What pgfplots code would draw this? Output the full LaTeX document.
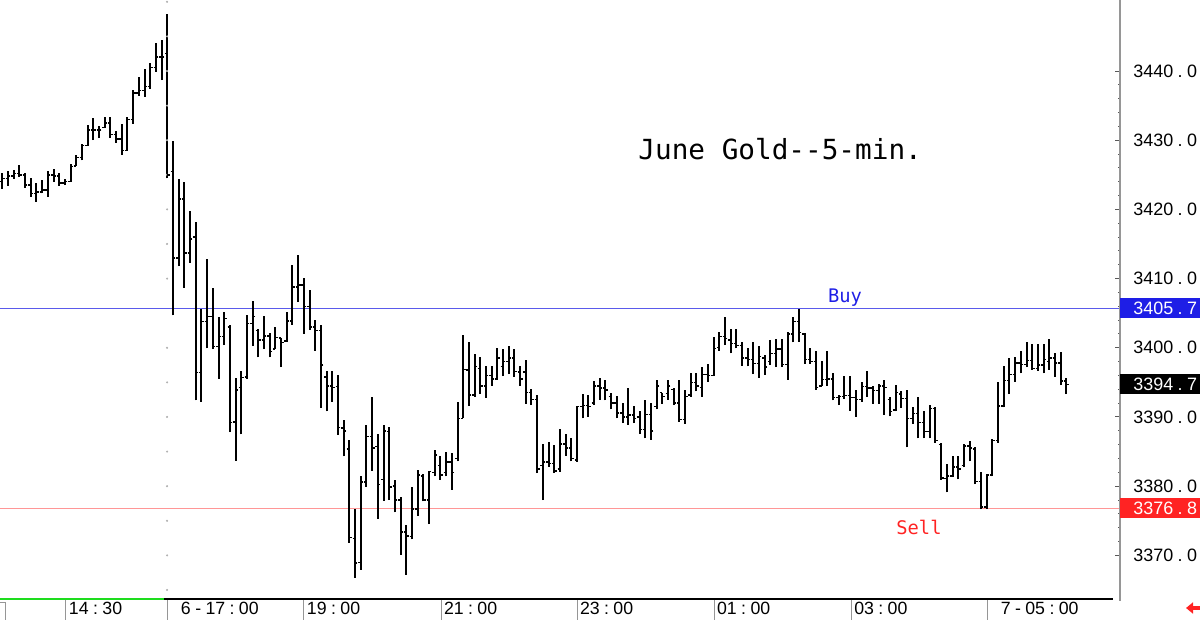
\documentclass[border=0pt]{standalone}
\usepackage{pgfplots}
\pgfplotsset{compat=1.18}
\usepackage{pgfplotstable}
\usepackage{fontspec}
\setmainfont{Liberation Sans}
\newfontfamily\monofont{DejaVu Sans Mono}
\usetikzlibrary{arrows.meta}
\definecolor{buyline}{RGB}{90,90,235}
\definecolor{buybox}{RGB}{30,30,230}
\definecolor{sellline}{RGB}{255,150,150}
\definecolor{sellbox}{RGB}{255,35,35}
\definecolor{greenbar}{RGB}{30,220,30}
\definecolor{sepgray}{RGB}{150,150,150}
\newcommand{\pr}[2]{#1\kern2.2bp.\kern2.2bp#2}
\newcommand{\tm}[2]{#1\kern2.2bp:\kern2.2bp#2}
\newcommand{\hy}{\kern2.2bp-\kern2.2bp}
\pgfdeclareplotmark{otick}{\pgfpathmoveto{\pgfqpoint{-1.2bp}{0pt}}\pgfpathlineto{\pgfqpoint{0pt}{0pt}}\pgfusepathqstroke}
\pgfdeclareplotmark{ctick}{\pgfpathmoveto{\pgfqpoint{1.2bp}{0pt}}\pgfpathlineto{\pgfqpoint{0pt}{0pt}}\pgfusepathqstroke}
\pgfplotstableread{
b o h l c
1 3424.0 3425.3 3423.0 3424.5
2 3424.5 3425.5 3423.4 3424.8
3 3424.8 3425.7 3424.4 3425.2
4 3425.2 3426.4 3424.7 3425.0
5 3425.0 3425.2 3423.1 3423.5
6 3423.5 3424.5 3421.8 3422.3
7 3422.3 3423.8 3421.1 3422.5
8 3422.5 3424.2 3422.3 3422.8
9 3422.8 3425.5 3421.8 3425.0
10 3425.0 3425.9 3424.0 3424.8
11 3424.8 3425.2 3423.4 3423.8
12 3423.8 3424.4 3423.5 3424.0
13 3424.0 3426.5 3424.0 3426.2
14 3426.3 3427.9 3426.3 3427.5
15 3427.5 3429.5 3427.1 3429.2
16 3429.2 3432.2 3429.2 3431.5
17 3431.5 3433.2 3430.0 3431.5
18 3431.5 3432.1 3430.3 3431.5
19 3431.8 3433.3 3431.8 3432.5
20 3432.5 3433.3 3430.3 3430.8
21 3430.8 3431.3 3429.6 3430.2
22 3430.2 3432.3 3427.9 3428.5
23 3428.5 3433.4 3428.5 3433.0
24 3433.0 3437.2 3432.4 3436.8
25 3436.8 3439.1 3436.4 3437.2
26 3437.2 3440.3 3436.3 3437.8
27 3437.8 3441.1 3437.4 3440.5
28 3440.5 3444.1 3439.9 3442.0
29 3442.0 3444.5 3438.7 3442.0
30 3442.5 3448.2 3424.5 3425.0
31 3425.5 3429.9 3404.7 3413.0
32 3413.0 3424.4 3411.8 3421.5
33 3421.5 3423.9 3408.7 3413.7
34 3413.7 3419.7 3412.3 3415.7
35 3416.0 3418.2 3392.4 3396.4
36 3396.4 3405.6 3392.2 3403.8
37 3403.8 3412.8 3399.9 3404.5
38 3404.5 3408.6 3399.8 3400.2
39 3400.2 3404.4 3395.5 3401.6
40 3401.6 3405.2 3400.4 3404.2
41 3403.0 3403.3 3387.8 3389.2
42 3389.3 3395.6 3383.7 3393.9
43 3394.3 3396.7 3387.5 3395.7
44 3395.8 3404.7 3395.5 3403.5
45 3403.5 3406.8 3400.3 3404.5
46 3402.5 3402.7 3398.6 3401.1
47 3401.1 3404.6 3399.8 3401.7
48 3401.7 3402.2 3398.6 3399.5
49 3399.8 3403.0 3399.8 3401.5
50 3401.4 3401.4 3397.2 3400.8
51 3401.0 3405.2 3400.9 3403.9
52 3403.9 3412.0 3403.3 3408.8
53 3408.8 3413.4 3406.6 3409.1
54 3409.1 3410.1 3402.0 3406.0
55 3406.0 3408.3 3402.6 3403.0
56 3403.0 3404.0 3399.6 3402.5
57 3402.5 3403.3 3391.3 3397.5
58 3395.8 3396.6 3390.8 3394.5
59 3394.5 3396.6 3392.2 3394.3
60 3394.4 3396.0 3387.4 3388.5
61 3388.4 3389.6 3384.3 3388.0
62 3385.4 3386.7 3371.8 3372.6
63 3372.4 3376.7 3366.8 3368.9
64 3369.0 3381.5 3367.9 3380.6
65 3380.6 3388.8 3379.9 3387.2
66 3387.2 3392.9 3382.2 3385.5
67 3385.7 3387.5 3375.3 3380.2
68 3381.0 3388.8 3377.9 3388.0
69 3387.9 3388.6 3378.0 3379.9
70 3380.0 3380.9 3376.2 3378.0
71 3378.0 3378.5 3370.1 3373.4
72 3373.4 3374.4 3367.2 3372.8
73 3372.7 3379.9 3372.3 3376.7
74 3376.7 3382.3 3375.7 3381.6
75 3381.5 3381.7 3377.8 3378.0
76 3378.0 3382.2 3374.5 3382.1
77 3382.0 3385.2 3381.4 3384.5
78 3383.0 3384.3 3380.9 3381.6
79 3382.0 3385.0 3381.4 3383.5
80 3383.5 3384.8 3379.5 3382.0
81 3384.0 3392.2 3383.6 3389.8
82 3389.8 3401.9 3389.8 3396.9
83 3396.8 3400.8 3391.6 3393.2
84 3393.2 3399.1 3392.9 3397.3
85 3397.0 3398.7 3393.3 3394.5
86 3394.5 3397.3 3392.8 3396.0
87 3396.0 3397.3 3394.5 3395.5
88 3395.5 3400.0 3395.4 3398.5
89 3397.3 3399.8 3395.9 3398.0
90 3398.0 3400.2 3396.2 3398.5
91 3398.5 3399.8 3395.8 3396.6
92 3396.5 3397.3 3394.5 3395.5
93 3396.5 3398.2 3391.9 3393.5
94 3393.5 3394.0 3391.7 3392.5
95 3392.5 3393.2 3381.9 3382.5
96 3383.0 3386.1 3378.0 3383.5
97 3383.5 3386.4 3382.8 3383.3
98 3383.3 3385.9 3381.9 3382.2
99 3382.5 3388.3 3382.1 3386.1
100 3386.1 3387.5 3384.4 3385.5
101 3385.5 3386.9 3383.6 3384.0
102 3383.8 3391.6 3383.5 3391.5
103 3391.5 3393.3 3389.8 3391.7
104 3391.7 3393.2 3390.0 3391.5
105 3392.0 3395.2 3391.7 3394.5
106 3394.5 3395.6 3392.5 3394.2
107 3394.2 3395.4 3392.4 3393.9
108 3393.0 3393.5 3391.1 3392.0
109 3392.0 3393.0 3389.8 3390.6
110 3390.6 3392.0 3389.1 3390.0
111 3390.0 3394.2 3388.9 3390.3
112 3390.3 3391.6 3389.1 3389.8
113 3390.0 3390.8 3387.6 3388.2
114 3388.2 3392.4 3386.9 3390.4
115 3390.4 3392.0 3386.7 3388.0
116 3391.5 3395.4 3391.1 3394.5
117 3393.5 3393.5 3391.9 3393.0
118 3393.4 3395.4 3392.5 3394.5
119 3394.0 3394.2 3391.7 3392.0
120 3392.0 3395.4 3389.3 3389.6
121 3389.6 3393.9 3389.0 3393.0
122 3393.2 3396.3 3392.9 3395.0
123 3395.0 3396.4 3393.7 3394.5
124 3394.3 3397.2 3392.9 3396.1
125 3396.1 3397.7 3395.1 3396.0
126 3396.0 3401.5 3395.9 3399.9
127 3400.0 3402.3 3399.6 3401.6
128 3401.6 3404.4 3400.4 3401.3
129 3401.1 3402.7 3399.2 3400.6
130 3400.6 3402.7 3399.9 3400.3
131 3400.3 3400.8 3397.4 3398.5
132 3398.5 3399.9 3397.3 3398.3
133 3398.3 3400.9 3396.2 3397.7
134 3397.7 3400.2 3395.7 3398.7
135 3398.5 3399.0 3396.1 3397.2
136 3398.0 3401.1 3397.5 3399.2
137 3399.2 3401.2 3397.2 3399.8
138 3399.8 3401.2 3397.2 3397.6
139 3397.6 3402.3 3395.4 3402.0
140 3402.0 3404.5 3400.8 3403.8
141 3403.8 3405.6 3400.9 3402.2
142 3402.0 3402.1 3397.7 3398.3
143 3398.3 3399.9 3397.7 3398.0
144 3398.0 3399.5 3393.9 3394.3
145 3394.5 3398.1 3394.5 3395.4
146 3395.4 3399.5 3394.5 3395.5
147 3395.5 3396.4 3392.4 3392.8
148 3392.8 3393.2 3391.7 3393.0
149 3393.0 3395.9 3392.6 3393.1
150 3393.1 3395.9 3390.9 3392.8
151 3392.8 3393.9 3390.0 3392.5
152 3392.5 3395.1 3392.2 3394.4
153 3394.4 3396.6 3392.9 3394.2
154 3394.2 3394.5 3391.9 3393.8
155 3393.8 3394.8 3391.9 3394.5
156 3394.5 3395.3 3390.3 3394.3
157 3392.5 3392.9 3390.1 3390.8
158 3391.0 3394.6 3390.8 3393.5
159 3393.3 3393.7 3391.3 3392.7
160 3392.7 3393.9 3385.6 3389.8
161 3389.8 3391.4 3389.0 3390.5
162 3390.5 3392.9 3386.9 3389.2
163 3389.2 3390.8 3386.9 3387.9
164 3387.9 3391.8 3386.9 3391.2
165 3391.2 3391.5 3386.3 3386.6
166 3386.0 3386.2 3380.9 3381.2
167 3381.1 3383.2 3379.1 3381.5
168 3381.5 3384.3 3381.3 3382.8
169 3382.8 3384.3 3381.0 3382.5
170 3383.0 3386.1 3382.7 3385.8
171 3385.8 3386.6 3383.6 3385.5
172 3385.4 3385.6 3380.3 3380.7
173 3380.7 3382.0 3376.7 3377.0
174 3377.0 3381.8 3376.7 3381.6
175 3381.6 3386.8 3381.4 3386.6
176 3386.6 3395.1 3386.3 3391.6
177 3391.6 3397.3 3391.4 3395.3
178 3395.3 3398.5 3393.3 3396.1
179 3396.1 3398.6 3395.1 3397.8
180 3397.8 3399.5 3396.3 3397.6
181 3397.6 3400.9 3397.2 3398.2
182 3398.2 3400.6 3396.8 3397.0
183 3397.0 3400.6 3396.7 3397.5
184 3397.5 3400.6 3396.3 3398.3
185 3398.0 3401.2 3396.8 3398.5
186 3398.5 3399.3 3395.8 3397.8
187 3397.8 3399.4 3394.6 3395.2
188 3395.2 3395.7 3393.3 3394.7
}\bars
\begin{document}
\begin{tikzpicture}
\begin{axis}[
  at={(0,11bp)}, anchor=south west,
  scale only axis, width=560bp, height=299bp,
  xmin=0.596, xmax=197.43, ymin=3363.84, ymax=3450.26,
  clip=false,
  axis line style={draw=none},
  xtick pos=bottom, ytick pos=right, yticklabel pos=right,
  tick align=inside,
  xtick={12.19,30.12,54.02,78.1,102.0,126.1,150.2,174.2},
  xticklabels={\tm{14}{30},\hspace*{5bp}6\hy\tm{17}{00},\tm{19}{00},\tm{21}{00},\tm{23}{00},\tm{01}{00},\tm{03}{00},\hspace*{5bp}7\hy\tm{05}{00}},
  xtick style={draw=none},
  xticklabel style={anchor=west, inner sep=0pt, xshift=1.3bp, yshift=-5.4bp, font=\fontsize{8.9}{10}\selectfont},
  ytick={3370,3380,3390,3400,3410,3420,3430,3440},
  yticklabels={\pr{3370}{0},\pr{3380}{0},\pr{3390}{0},\pr{3400}{0},\pr{3410}{0},\pr{3420}{0},\pr{3430}{0},\pr{3440}{0}},
  minor y tick num=4,
  major tick length=2.5bp, minor tick length=1.2bp,
  ytick style={draw=black!65, line width=0.5bp},
  yticklabel style={anchor=west, inner sep=0pt, xshift=6.5bp, font=\fontsize{9}{10}\selectfont},
]
% reference lines
\addplot[buyline, line width=0.7bp] coordinates {(0.596,3405.7) (197.43,3405.7)};
\addplot[sellline, line width=0.7bp] coordinates {(0.596,3376.8) (197.43,3376.8)};
% session separator dots
\addplot[only marks, mark=*, mark size=0.3bp, gray!60] coordinates {(29.96,3365) (29.96,3370) (29.96,3375) (29.96,3380) (29.96,3385) (29.96,3390) (29.96,3395) (29.96,3400) (29.96,3410) (29.96,3415) (29.96,3420) (29.96,3425) (29.96,3430) (29.96,3435) (29.96,3440) (29.96,3445) (29.96,3450)};
% OHLC high-low lines
\pgfplotsinvokeforeach{0,...,187}{%
  \pgfplotstablegetelem{#1}{b}\of\bars \edef\xb{\pgfplotsretval}%
  \pgfplotstablegetelem{#1}{l}\of\bars \edef\yl{\pgfplotsretval}%
  \pgfplotstablegetelem{#1}{h}\of\bars \edef\yh{\pgfplotsretval}%
  \edef\temp{\noexpand\addplot[black, line width=1bp, forget plot] coordinates {(\xb,\yl) (\xb,\yh)};}%
  \temp
}
\addplot[only marks, mark=otick, mark options={draw=black, line width=0.7bp}] table[x=b, y=o] {\bars};
\addplot[only marks, mark=ctick, mark options={draw=black, line width=0.7bp}] table[x=b, y=c] {\bars};
% axis frame pieces
\draw[sepgray, line width=0.7bp] (rel axis cs:1,1) -- ([yshift=-1.5bp]rel axis cs:1,0);
\draw[greenbar, line width=1.3bp] ([yshift=-0.5bp]rel axis cs:0,0) -- ([yshift=-0.5bp]rel axis cs:0.1465,0);
\draw[black, line width=1.3bp] ([yshift=-0.5bp]rel axis cs:0.1465,0) -- ([yshift=-0.5bp]rel axis cs:0.994,0);
\draw[sepgray, line width=0.5bp] ([yshift=-1.2bp]axis cs:12.19,3363.84) -- ([yshift=-11bp]axis cs:12.19,3363.84);
\draw[sepgray, line width=0.5bp] ([yshift=-1.2bp]axis cs:30.12,3363.84) -- ([yshift=-11bp]axis cs:30.12,3363.84);
\draw[sepgray, line width=0.5bp] ([yshift=-1.2bp]axis cs:54.02,3363.84) -- ([yshift=-11bp]axis cs:54.02,3363.84);
\draw[sepgray, line width=0.5bp] ([yshift=-1.2bp]axis cs:78.1,3363.84) -- ([yshift=-11bp]axis cs:78.1,3363.84);
\draw[sepgray, line width=0.5bp] ([yshift=-1.2bp]axis cs:102.0,3363.84) -- ([yshift=-11bp]axis cs:102.0,3363.84);
\draw[sepgray, line width=0.5bp] ([yshift=-1.2bp]axis cs:126.1,3363.84) -- ([yshift=-11bp]axis cs:126.1,3363.84);
\draw[sepgray, line width=0.5bp] ([yshift=-1.2bp]axis cs:150.2,3363.84) -- ([yshift=-11bp]axis cs:150.2,3363.84);
\draw[sepgray, line width=0.5bp] ([yshift=-1.2bp]axis cs:174.2,3363.84) -- ([yshift=-11bp]axis cs:174.2,3363.84);
% labels
\node[font=\monofont\fontsize{13.9}{16}\selectfont] at (axis cs:137.7,3428.7) {June Gold-\kern0pt-5-min.};
\node[text=buybox, font=\monofont\fontsize{9.4}{11}\selectfont] at (axis cs:149.1,3407.2) {Buy};
\node[text=sellbox, font=\monofont\fontsize{9.4}{11}\selectfont] at (axis cs:162.1,3374.0) {Sell};
\node[anchor=west, fill=buybox, text=white, inner xsep=6.5bp, inner ysep=0pt, minimum height=10bp, font=\fontsize{9}{10}\selectfont] at (axis cs:197.43,3405.7) {\pr{3405}{7}};
\node[anchor=west, fill=black, text=white, inner xsep=6.5bp, inner ysep=0pt, minimum height=10bp, font=\fontsize{9}{10}\selectfont] at (axis cs:197.43,3394.7) {\pr{3394}{7}};
\node[anchor=west, fill=sellbox, text=white, inner xsep=6.5bp, inner ysep=0pt, minimum height=10bp, font=\fontsize{9}{10}\selectfont] at (axis cs:197.43,3376.8) {\pr{3376}{8}};
\end{axis}
\draw[sepgray, line width=0.5bp] (0,8.5bp) -- (2.5bp,8.5bp) -- (2.5bp,0);
\draw[sellbox, line width=1.6bp, -{Triangle[length=3.5bp,width=5.5bp]}] (600bp,6bp) -- (593bp,6bp);
\pgfresetboundingbox
\useasboundingbox (0,0) rectangle (600bp,310bp);
\end{tikzpicture}
\end{document}
